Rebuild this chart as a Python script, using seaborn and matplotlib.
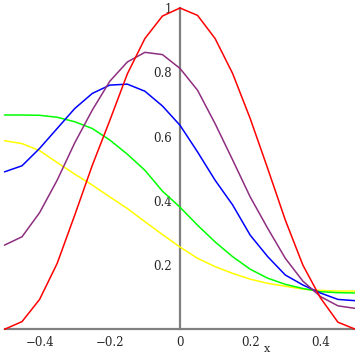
import numpy as np
import pandas as pd
import matplotlib
matplotlib.use("Agg")
import matplotlib.pyplot as plt
import seaborn as sns

# sample points shared by all curves
x_vals = [-0.5, -0.45, -0.4, -0.35, -0.3, -0.25, -0.2, -0.15, -0.1, -0.05, 0.0,
          0.05, 0.1, 0.15, 0.2, 0.25, 0.3, 0.35, 0.4, 0.45, 0.5]

red_y = [0.0, 0.024, 0.093, 0.205, 0.355, 0.51, 0.65, 0.795, 0.905, 0.975, 1.0,
         0.977, 0.905, 0.796, 0.656, 0.50, 0.34, 0.20, 0.098, 0.022, 0.0]
purple_y = [0.262, 0.288, 0.363, 0.464, 0.58, 0.682, 0.772, 0.832, 0.862, 0.855, 0.812,
            0.744, 0.64, 0.527, 0.412, 0.314, 0.221, 0.150, 0.102, 0.073, 0.065]
blue_y = [0.49, 0.509, 0.563, 0.625, 0.687, 0.734, 0.76, 0.763, 0.741, 0.695, 0.635,
          0.552, 0.464, 0.387, 0.293, 0.226, 0.169, 0.138, 0.113, 0.093, 0.089]
green_y = [0.667, 0.667, 0.666, 0.66, 0.646, 0.625, 0.589, 0.545, 0.495, 0.43, 0.38,
           0.324, 0.272, 0.226, 0.187, 0.159, 0.14, 0.127, 0.117, 0.114, 0.113]
yellow_y = [0.587, 0.578, 0.556, 0.519, 0.483, 0.449, 0.412, 0.376, 0.335, 0.295, 0.256,
            0.221, 0.195, 0.174, 0.156, 0.143, 0.134, 0.125, 0.121, 0.119, 0.119]

series_names = ["yellow", "green", "blue", "purple", "red"]
series_values = [yellow_y, green_y, blue_y, purple_y, red_y]
series_colors = ["#ffff00", "#00ff00", "#0000ff", "#8e2e80", "#ff0000"]

rows = []
for name, ys in zip(series_names, series_values):
    for xv, yv in zip(x_vals, ys):
        rows.append({"x": xv, "y": yv, "curve": name})
df = pd.DataFrame(rows)

sns.set_style("white")
plt.rcParams['font.family'] = ['DejaVu Serif']

fig = plt.figure(figsize=(3.55, 3.55), dpi=100)
ax = fig.add_axes([4.5 / 355, 25.7 / 355, 351 / 355, 321.3 / 355])

sns.lineplot(data=df, x="x", y="y", hue="curve", hue_order=series_names,
             palette=dict(zip(series_names, series_colors)), linewidth=1.1,
             legend=False, ax=ax, clip_on=False)

ax.set_xlim(-0.5, 0.5)
ax.set_ylim(0, 1)

# maple-style axes crossing at the origin
for side in ["top", "right"]:
    ax.spines[side].set_visible(False)
ax.spines["left"].set_position(("data", 0))
ax.spines["bottom"].set_position(("data", 0))
for side in ["left", "bottom"]:
    ax.spines[side].set_color("#808080")
    ax.spines[side].set_linewidth(1.6)
    ax.spines[side].set_zorder(0.5)

ax.set_xticks([-0.4, -0.2, 0, 0.2, 0.4])
ax.set_xticklabels(["\u22120.4", "\u22120.2", "0", "0.2", "0.4"])
ax.set_xticks(np.arange(-0.5, 0.51, 0.1), minor=True)
ax.set_yticks([0.2, 0.4, 0.6, 0.8, 1.0])
ax.set_yticklabels(["0.2", "0.4", "0.6", "0.8", "1"])
ax.set_yticks(np.arange(0.1, 1.0, 0.1), minor=True)
ax.tick_params(axis="both", which="both", direction="inout", length=3.5,
               width=0.8, color="black", labelsize=8.5)
ax.tick_params(axis="x", pad=3)
ax.tick_params(axis="y", pad=4)

ax.set_xlabel("")
ax.set_ylabel("")
# axis name sits right at the bottom edge, as in the original
fig.text(267 / 355, 0.5 / 355, "x", fontsize=8, ha="center", va="bottom")

plt.savefig("out.png", dpi=100)
plt.close()
